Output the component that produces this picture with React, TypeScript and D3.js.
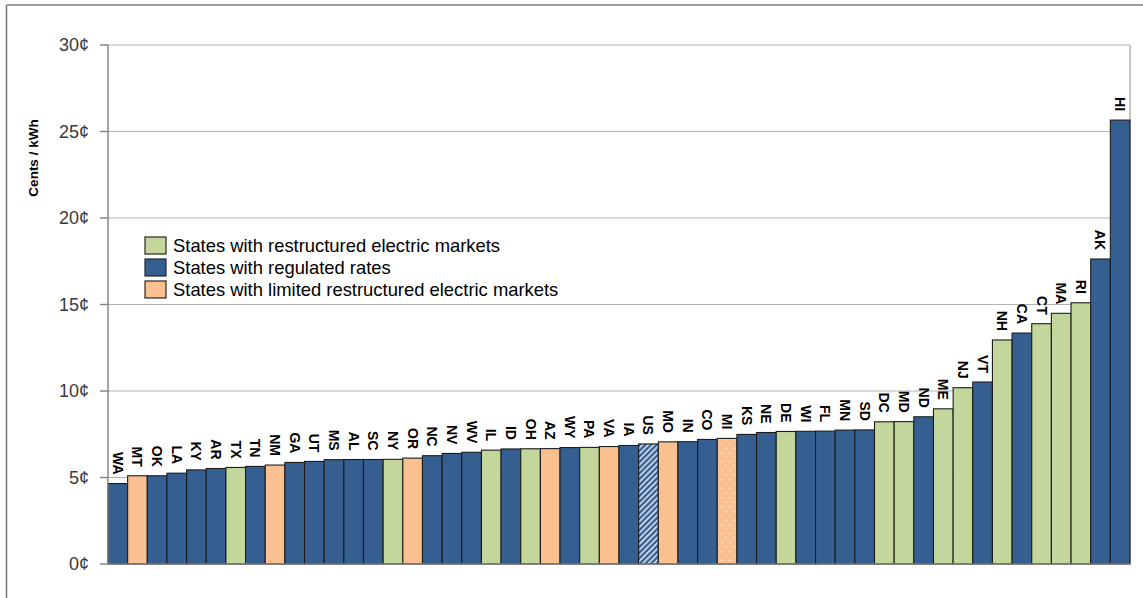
import React from "react";
import * as d3 from "d3";

const states = ["WA","MT","OK","LA","KY","AR","TX","TN","NM","GA","UT","MS","AL","SC","NY","OR","NC","NV","WV","IL","ID","OH","AZ","WY","PA","VA","IA","US","MO","IN","CO","MI","KS","NE","DE","WI","FL","MN","SD","DC","MD","ND","ME","NJ","VT","NH","CA","CT","MA","RI","AK","HI"];
const prices = [4.65,5.1,5.1,5.25,5.44,5.52,5.58,5.64,5.72,5.87,5.93,6.03,6.04,6.04,6.05,6.12,6.26,6.39,6.46,6.58,6.65,6.66,6.67,6.73,6.74,6.79,6.85,6.94,7.06,7.07,7.2,7.26,7.49,7.6,7.66,7.67,7.68,7.74,7.75,8.22,8.23,8.51,8.97,10.19,10.52,12.95,13.35,13.89,14.49,15.1,17.63,25.66];
// R = restructured, G = regulated, L = limited restructured, U = US average, P = limited (dotted)
const marketTypes = ["G","L","G","G","G","G","R","G","L","G","G","G","G","G","R","L","G","G","G","R","G","R","L","G","R","L","G","U","L","G","G","P","G","G","R","G","G","G","G","R","R","G","R","R","G","R","G","R","R","R","G","G"];
const yTicks = [0,5,10,15,20,25,30];
const legendLabels = ["States with restructured electric markets","States with regulated rates","States with limited restructured electric markets"];
const legendTypes = ["R","G","L"];

const GREEN = "#c3d69b";
const BLUE = "#365f91";
const ORANGE = "#fac090";

const fillFor = (t: string) => {
  if (t === "R") return GREEN;
  if (t === "G") return BLUE;
  if (t === "L") return ORANGE;
  if (t === "U") return "url(#usHatch)";
  if (t === "P") return "url(#miDots)";
  return BLUE;
};

export default function App() {
  const left = 108, right = 1130, top = 45, bottom = 564;
  const x = d3.scaleBand<string>().domain(states).range([left, right]).padding(0);
  const y = d3.scaleLinear().domain([0, 30]).range([bottom, top]);
  const font = "'Liberation Sans', Arial, sans-serif";

  return (
    <svg width={1143} height={598} style={{ position: "absolute", left: 0, top: 0, background: "#fff" }} fontFamily={font}>
      <defs>
        <pattern id="usHatch" patternUnits="userSpaceOnUse" width="4" height="4" patternTransform="rotate(45)">
          <rect width="4" height="4" fill={BLUE} />
          <rect x="0" y="0" width="1.6" height="4" fill="#dfe6f0" />
        </pattern>
        <pattern id="miDots" patternUnits="userSpaceOnUse" width="8" height="9">
          <rect width="8" height="9" fill={ORANGE} />
          <rect x="1.5" y="2" width="1.3" height="1.3" fill="#fff1e4" />
          <rect x="5.5" y="6.5" width="1.3" height="1.3" fill="#fff1e4" />
        </pattern>
      </defs>
      <rect x={0} y={0} width={1143} height={598} fill="#fff" />
      {/* outer frame */}
      <line x1={6.5} y1={5} x2={1143} y2={5} stroke="#7f7f7f" strokeWidth={1.6} />
      <line x1={6.5} y1={5} x2={6.5} y2={598} stroke="#7f7f7f" strokeWidth={1.6} />

      {/* gridlines */}
      {yTicks.filter(t => t > 0).map(t => (
        <line key={"g" + t} x1={left} x2={right} y1={y(t)} y2={y(t)} stroke="#b3b3b3" strokeWidth={1.2} />
      ))}
      <line x1={right} x2={right} y1={top} y2={bottom} stroke="#a6a6a6" strokeWidth={1.3} />

      {/* bars */}
      {states.map((s, i) => (
        <rect key={s} x={x(s)!} y={y(prices[i])} width={x.bandwidth()} height={y(0) - y(prices[i])}
          fill={fillFor(marketTypes[i])} stroke="#1c1c1c" strokeWidth={1.1} />
      ))}

      {/* bar labels */}
      {states.map((s, i) => {
        const cx = x(s)! + x.bandwidth() / 2;
        const ty = y(prices[i]) - 9;
        return (
          <text key={"l" + s} transform={`translate(${cx},${ty}) rotate(90)`} textAnchor="end" dy="0.36em"
            fontSize={14} fontWeight="bold" fill="#000">{s}</text>
        );
      })}

      {/* axes */}
      <line x1={left} x2={right} y1={bottom} y2={bottom} stroke="#808080" strokeWidth={1.4} />
      <line x1={left} x2={left} y1={top} y2={bottom} stroke="#808080" strokeWidth={1.4} />
      {yTicks.map(t => (
        <g key={"t" + t}>
          <line x1={100} x2={left} y1={y(t)} y2={y(t)} stroke="#808080" strokeWidth={1.4} />
          <text x={89} y={y(t)} dy="0.35em" textAnchor="end" fontSize={18} fill="#3a3a3a">{t + "¢"}</text>
        </g>
      ))}
      <text transform={`translate(38,158) rotate(-90)`} textAnchor="middle" fontSize={13.5} fontWeight="bold" fill="#000">Cents / kWh</text>

      {/* legend */}
      {legendLabels.map((lab, i) => (
        <g key={"lg" + i}>
          <rect x={145} y={237 + i * 22} width={21} height={17} fill={fillFor(legendTypes[i])} stroke="#262626" strokeWidth={1.2} />
          <text x={173} y={251.5 + i * 22} fontSize={18.4} fill="#000">{lab}</text>
        </g>
      ))}
    </svg>
  );
}
